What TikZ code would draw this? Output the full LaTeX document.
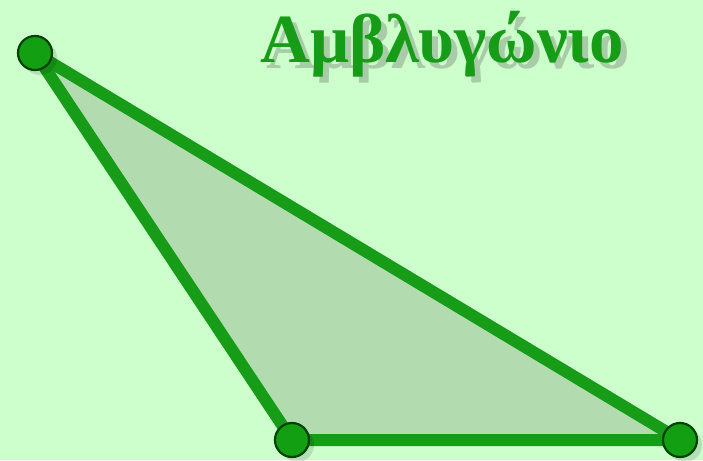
\documentclass[tikz,border=0pt]{standalone}
\usepackage{fontspec}
\setmainfont{Liberation Serif}
\begin{document}
\begin{tikzpicture}[x=1pt,y=-1pt]
\definecolor{bg}{HTML}{CCFFCC}
\definecolor{edge}{HTML}{169C16}
\definecolor{tri}{HTML}{B2DCB0}
\definecolor{dot}{HTML}{12A012}
\definecolor{tshadow}{HTML}{A8CCA8}
\tikzset{
  vertex/.style={circle, fill=dot, draw=black!75!green, line width=2.2pt, minimum size=34pt, inner sep=0pt},
  side/.style={draw=edge, line width=12pt, line cap=round, line join=round},
  title/.style={font=\bfseries\fontsize{69}{69}\selectfont, text=edge, inner sep=0pt}
}
\fill[bg] (0,0) rectangle (703,460);
\useasboundingbox (0,0) rectangle (703,460);
\coordinate (A) at (35,53);
\coordinate (B) at (292,440);
\coordinate (C) at (680,440);
\fill[tri] (A) -- (B) -- (C) -- cycle;
\draw[side] (A) -- (B) -- (C) -- cycle;
\fill[black, opacity=0.12] (40,58) circle (17);
\fill[black, opacity=0.12] (297,445) circle (17);
\fill[black, opacity=0.12] (685,445) circle (17);
\node[vertex] (vA) at (A) {};
\node[vertex] (vB) at (B) {};
\node[vertex] (vC) at (C) {};
\node[title] (t) at (442,47) {\rlap{\hspace{6pt}\raisebox{-6pt}{\textcolor{tshadow}{Αμβλυγώνιο}}}Αμβλυγώνιο};
\end{tikzpicture}
\end{document}
